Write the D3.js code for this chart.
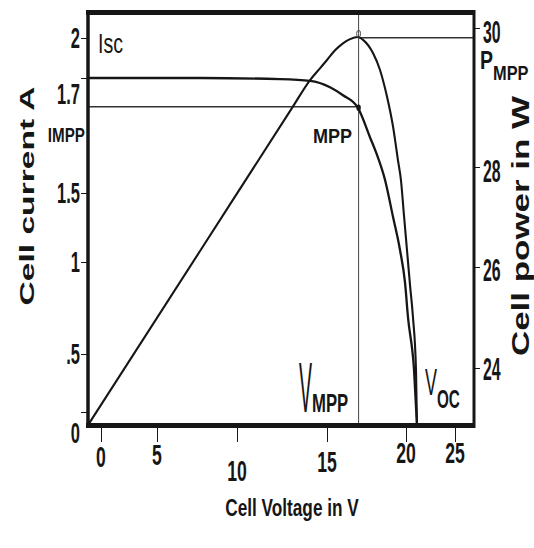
<!DOCTYPE html>
<html>
<head>
<meta charset="utf-8">
<script src="https://cdn.jsdelivr.net/npm/d3@7"></script>
<style>
body{margin:0;background:#fff;}
svg{display:block;font-family:"Liberation Sans",Arial,sans-serif;}
</style>
</head>
<body>
<svg width="534" height="548"></svg>
<script>
// tick values of the three axes
const voltTicks=[0,5,10,15,20,25];
const currTicks=[0,0.5,1,1.5,1.7,2];
const powTicks=[24,26,28,30];

// I-V curve (voltage V, current A)
const ivVolt=[-1.16,7.69,12.39,14.06,15.19,16.01,16.96,17.72,18.10,18.67,19.18,19.62,19.94,20.20,20.82,21.12];
const ivCurr=[1.70,1.70,1.698,1.695,1.684,1.670,1.648,1.597,1.571,1.523,1.326,1.087,0.886,0.701,0.362,-0.112];

// P-V curve (voltage V, power W)
const pvVolt=[-1.16,7.69,13.06,14.06,14.61,15.0,15.51,16.01,16.46,16.96,17.28,17.91,18.35,18.80,19.18,19.49,19.68,19.87,20.10,20.41,20.71,21.02,21.12];
const pvPow=[22.87,26.32,28.85,29.25,29.42,29.54,29.68,29.78,29.84,29.87,29.83,29.64,29.40,29.01,28.58,28.10,27.74,27.04,26.34,25.64,25.01,23.96,22.87];

// maximum power point
const vMpp=17, iMpp=1.65, pMpp=29.86;

const svg=d3.select('svg');
const frame={left:88,right:474,top:13,bottom:425};

// the original figure has uneven tick spacing -> piecewise scales
const x=d3.scaleLinear().domain(voltTicks).range([101,157,237,327,406,455]);
const yI=d3.scaleLinear().domain(currTicks).range([412,354,262,193,78,38]);
const yP=d3.scaleLinear().domain(powTicks).range([368,267,167,28]);

const ink='#161616';

function label(px,py,txt,o={}){
  const t=svg.append('text')
    .attr('transform',`translate(${px},${py})${o.rot?` rotate(${o.rot})`:''} scale(${o.sx||1},${o.sy||1})`)
    .attr('text-anchor',o.anchor||'start')
    .attr('font-size',o.size||22)
    .attr('font-weight',o.weight||'normal')
    .attr('fill',ink)
    .text(txt);
  return t;
}

/****** reference lines ******/
svg.append('line')
  .attr('x1',frame.left).attr('x2',x(vMpp))
  .attr('y1',yI(iMpp)).attr('y2',yI(iMpp))
  .attr('stroke','#333').attr('stroke-width',1.6);
svg.append('line')
  .attr('x1',x(vMpp)).attr('x2',frame.right)
  .attr('y1',yP(pMpp)).attr('y2',yP(pMpp))
  .attr('stroke','#333').attr('stroke-width',1.6);
svg.append('line')
  .attr('x1',x(vMpp)).attr('x2',x(vMpp))
  .attr('y1',frame.top).attr('y2',frame.bottom)
  .attr('stroke','#444').attr('stroke-width',1);

/****** curves ******/
const ivLine=d3.line().x(d=>x(d[0])).y(d=>yI(d[1])).curve(d3.curveMonotoneX);
const pvLine=d3.line().x(d=>x(d[0])).y(d=>yP(d[1])).curve(d3.curveMonotoneX);

svg.append('path')
  .attr('d',ivLine(d3.zip(ivVolt,ivCurr)))
  .attr('fill','none').attr('stroke',ink).attr('stroke-width',2.3);
svg.append('path')
  .attr('d',pvLine(d3.zip(pvVolt,pvPow)))
  .attr('fill','none').attr('stroke',ink).attr('stroke-width',2.1);

// markers at the MPP
svg.append('ellipse')
  .attr('cx',x(vMpp)).attr('cy',yI(iMpp)+1)
  .attr('rx',2.2).attr('ry',3.2).attr('fill',ink);
svg.append('ellipse')
  .attr('cx',x(vMpp)).attr('cy',yP(pMpp)-4)
  .attr('rx',2).attr('ry',3.5).attr('fill','none')
  .attr('stroke','#555').attr('stroke-width',1);

/****** ticks ******/
svg.append('g').attr('transform',`translate(${frame.left},0)`)
  .call(d3.axisLeft(yI).tickValues(currTicks).tickSize(7).tickFormat(''))
  .call(g=>g.select('.domain').remove())
  .attr('color',ink);
svg.append('g').attr('transform',`translate(0,${frame.bottom+2})`)
  .call(d3.axisBottom(x).tickValues(voltTicks).tickSize(15).tickFormat(''))
  .call(g=>g.select('.domain').remove())
  .attr('color',ink);
svg.append('g').attr('transform',`translate(${frame.right},0)`)
  .call(d3.axisRight(yP).tickValues(powTicks).tickSize(6).tickFormat(''))
  .call(g=>g.select('.domain').remove())
  .attr('color',ink);

/****** frame ******/
svg.append('line').attr('x1',frame.left-2).attr('x2',frame.right+1)
  .attr('y1',frame.top-0.5).attr('y2',frame.top-0.5)
  .attr('stroke',ink).attr('stroke-width',5);
svg.append('line').attr('x1',frame.left-2).attr('x2',frame.right+1)
  .attr('y1',frame.bottom+0.5).attr('y2',frame.bottom+0.5)
  .attr('stroke',ink).attr('stroke-width',5);
svg.append('line').attr('x1',frame.left).attr('x2',frame.left)
  .attr('y1',frame.top-3).attr('y2',frame.bottom+3)
  .attr('stroke',ink).attr('stroke-width',3.5);
svg.append('line').attr('x1',frame.right).attr('x2',frame.right)
  .attr('y1',frame.top-3).attr('y2',frame.bottom+3)
  .attr('stroke',ink).attr('stroke-width',3);

/****** tick labels ******/
const fmt=d=>d===0.5?'.5':String(d);
const currNudge={0:21,1.7:16};
currTicks.forEach(d=>label(80,yI(d)+(currNudge[d]||0)+10,fmt(d),{anchor:'end',weight:'bold',sx:0.75,sy:1.3}));
const voltNudge={0:2,5:0,10:16,15:7,20:-2,25:-2};
voltTicks.forEach(d=>label(x(d),455+(voltNudge[d]||0)+10,fmt(d),{anchor:'middle',weight:'bold',sx:0.8,sy:1.32}));
const powNudge={30:15,28:15,26:14,24:12};
powTicks.forEach(d=>label(483,yP(d)+powNudge[d],fmt(d),{weight:'bold',sx:0.72,sy:1.45}));

/****** annotations ******/
label(98,53,'Isc',{size:28,sx:0.7});
label(85,142,'IMPP',{size:20,weight:'bold',anchor:'end',sx:0.76});
label(313,143,'MPP',{size:21,weight:'bold',sx:0.86});

const pm=label(480,69,'',{sx:0.78});
pm.append('tspan').attr('font-size',25).attr('font-weight','bold').text('P');
pm.append('tspan').attr('font-size',21).attr('font-weight','bold').attr('dy',11).text('MPP');

label(299,412,'V',{size:30,sx:0.65,sy:2.33});
label(312,412,'MPP',{size:26.5,weight:'bold',sx:0.63});
label(425,395,'V',{size:24,sx:0.75,sy:1.57});
label(437,408,'OC',{size:25,weight:'bold',sx:0.61});

/****** axis titles ******/
label(34,196,'Cell current A',{rot:-90,size:21,weight:'bold',anchor:'middle',sx:1.6});
label(529,226,'Cell power in W',{rot:-90,size:23,weight:'bold',anchor:'middle',sx:1.52});
label(292,516,'Cell Voltage in V',{size:21,weight:'bold',anchor:'middle',sx:0.82,sy:1.12});
</script>
</body>
</html>
